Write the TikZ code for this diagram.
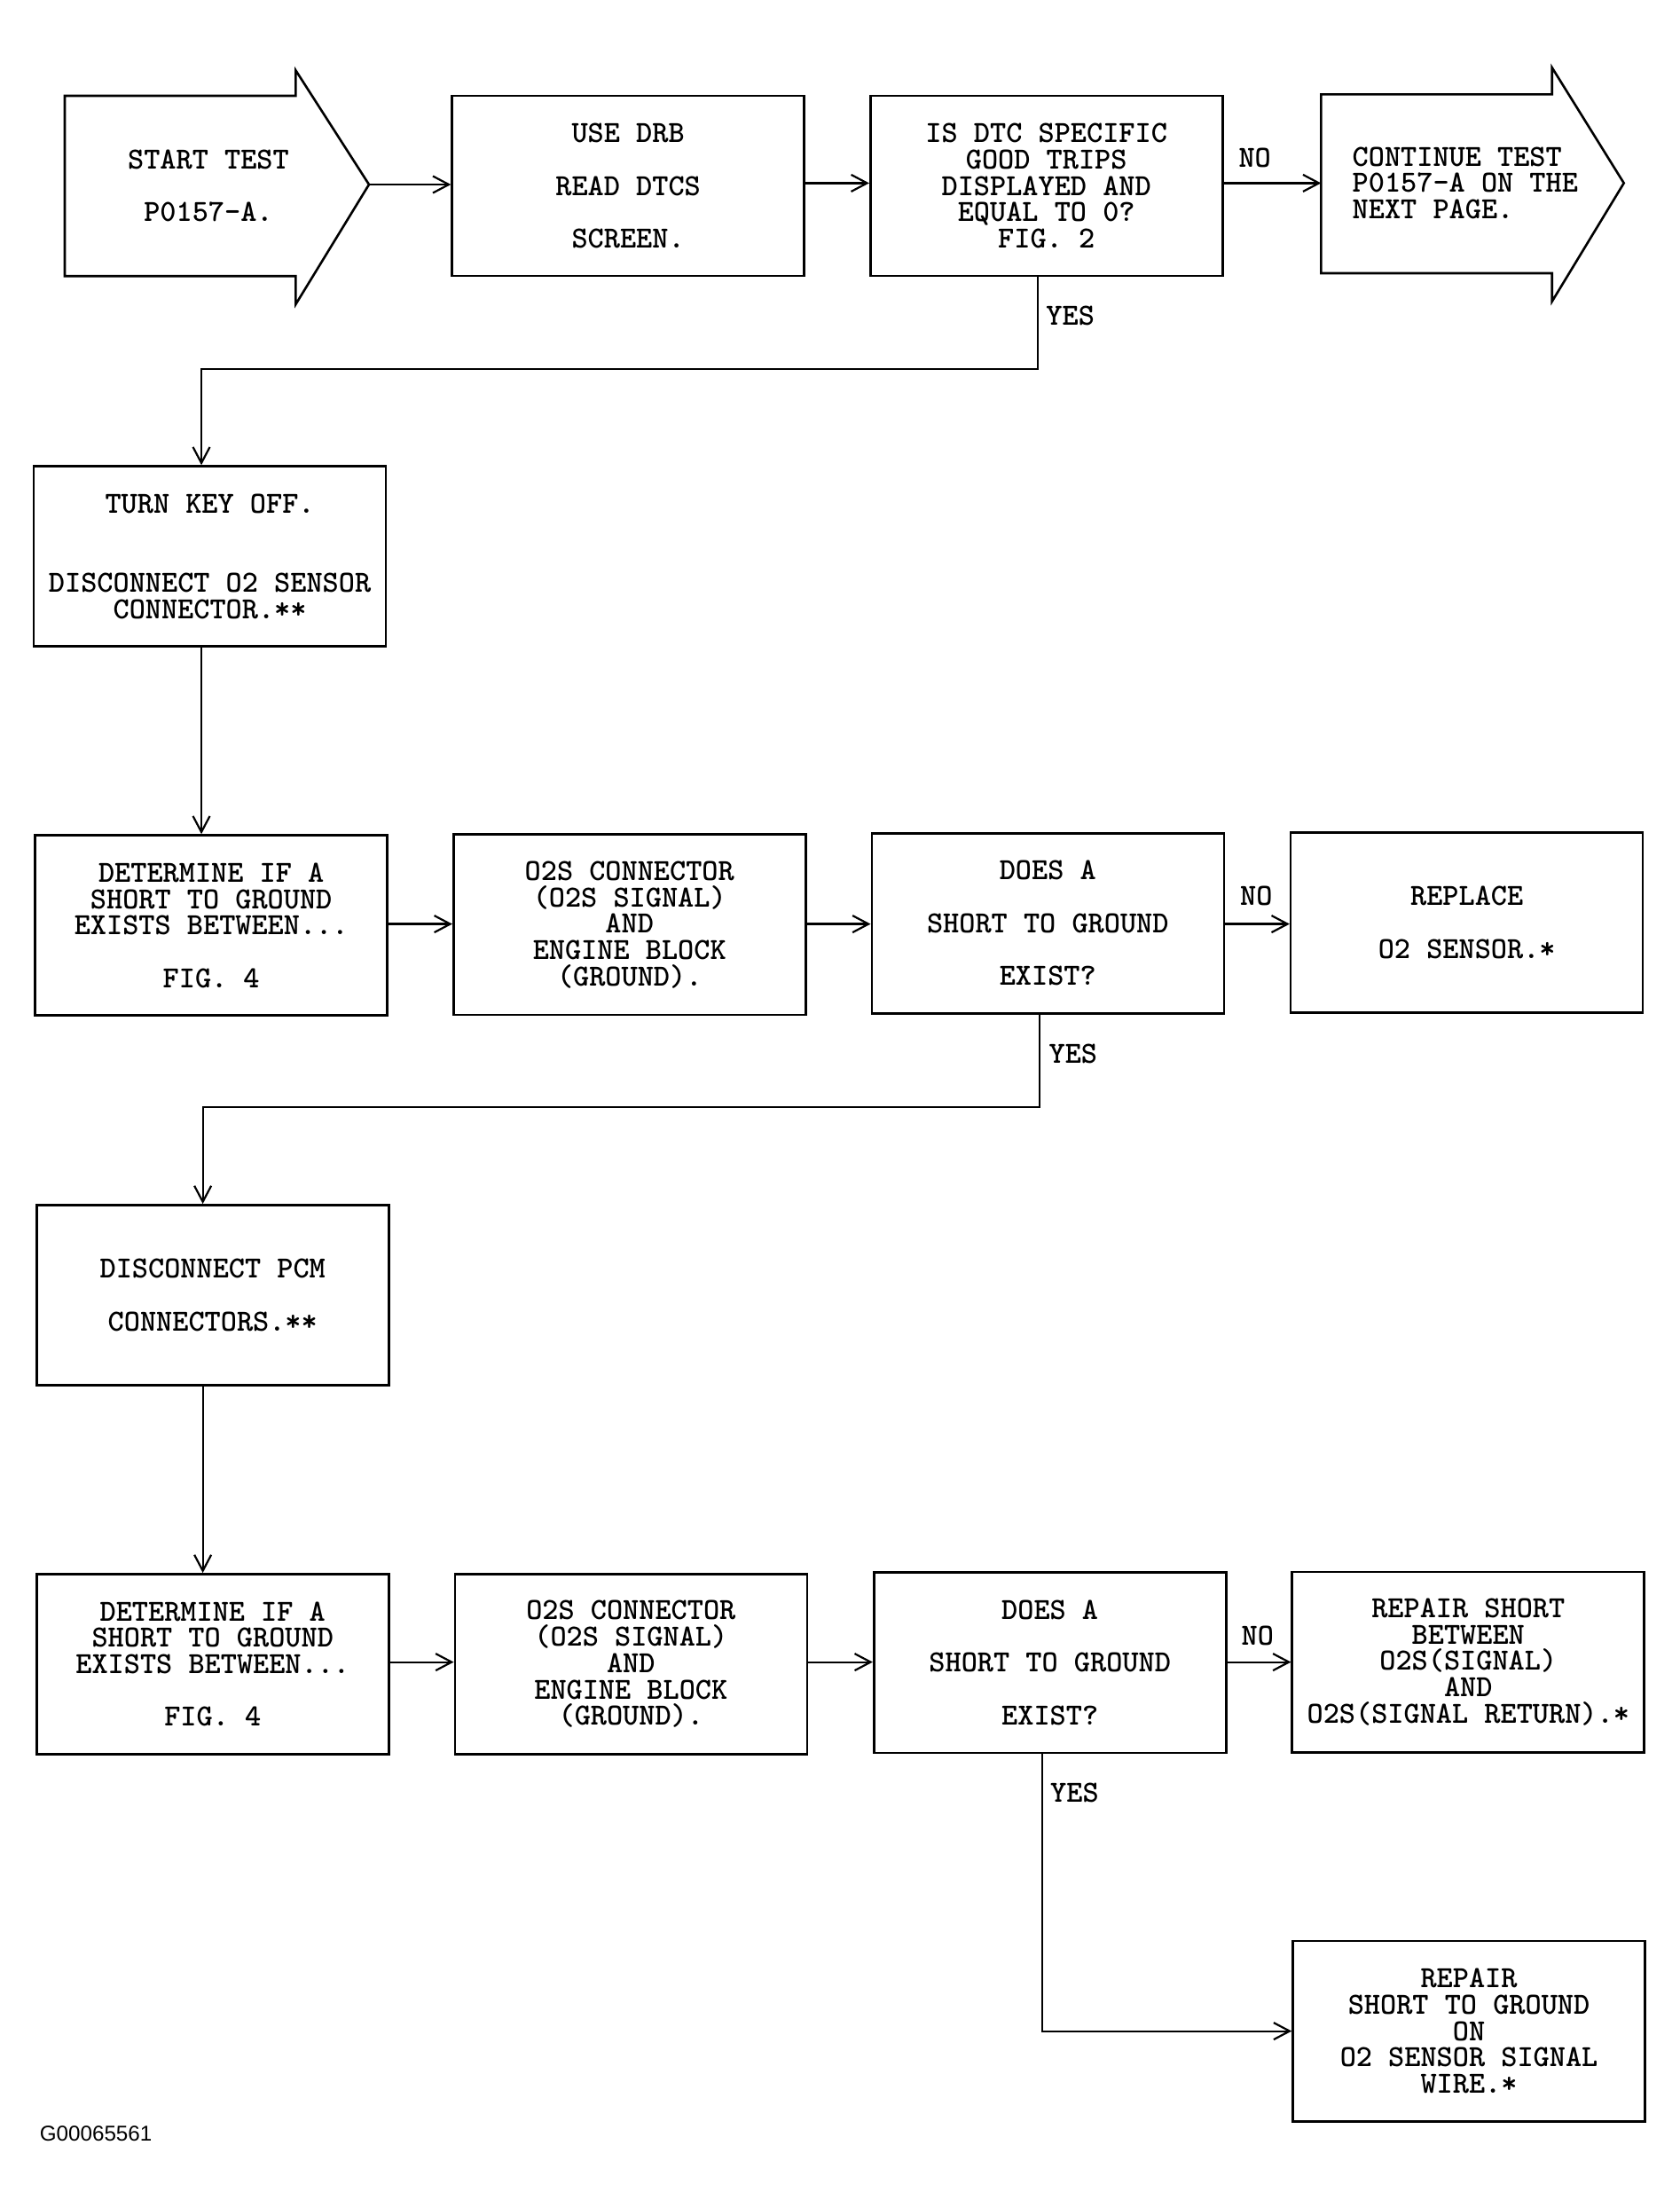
\documentclass[tikz,border=0pt]{standalone}
\usepackage{fontspec}
\newfontfamily\footfont{Liberation Sans}
\usetikzlibrary{arrows.meta}
\newcommand{\boxfont}{\ttfamily\bfseries\fontsize{17.3}{14.85}\selectfont\lineskiplimit=-100pt\relax}
\newcommand{\gap}{\mbox{}}
\tikzset{
  stepbox/.style={draw, line width=1.3pt, minimum width=198.5pt, minimum height=101.6pt,
    inner sep=0pt, align=center, font=\boxfont},
  bigarrow/.style={draw, line width=1.3pt, line join=miter},
  lbl/.style={font=\boxfont, inner sep=0pt},
  arr/.style={line width=1.1pt, -{Straight Barb[length=9pt,width=9.5pt,line width=1.1pt]}}
}
\begin{document}
\begin{tikzpicture}[x=0.7939pt,y=-0.7939pt]
\useasboundingbox (0,0) rectangle (1192.3,1567.6);
\fill[white] (0,0) rectangle (1192.3,1567.6);

% ---- row 1 ----
\draw[bigarrow] (46,68) -- (210,68) -- (210,50) -- (262,131) -- (210,216) -- (210,196) -- (46,196) -- cycle;
\coordinate (starttip) at (262,131);
\node[lbl, align=center] (starttxt) at (148,132) {START TEST\\\gap\\P0157-A.};

\node[stepbox] (use) at (446,132) {USE DRB\\\gap\\READ DTCS\\\gap\\SCREEN.};
\node[stepbox] (dtc) at (743,132) {IS DTC SPECIFIC\\GOOD TRIPS\\DISPLAYED AND\\EQUAL TO 0?\\FIG. 2};

\draw[bigarrow] (938,67) -- (1102,67) -- (1102,48) -- (1153,130) -- (1102,214) -- (1102,194) -- (938,194) -- cycle;
\coordinate (conttail) at (938,130);
\node[lbl, align=left, anchor=west] (conttxt) at (960,130) {CONTINUE TEST\\P0157-A ON THE\\NEXT PAGE.};

\draw[arr] (starttip) -- (use.west |- starttip);
\draw[arr] (use.east |- 0,130) -- (dtc.west |- 0,130);
\draw[arr] (dtc.east |- 0,130) -- (conttail);
\node[lbl] (no1) at (891,112) {NO};

% ---- YES 1 ----
\node[stepbox] (turn) at (149,395) {TURN KEY OFF.\\\gap\\\gap\\DISCONNECT O2 SENSOR\\CONNECTOR.**};
\draw[arr] (dtc.south -| 737,0) -- (737,262) -- (143,262) -- (turn.north -| 143,0);
\node[lbl] (yes1) at (760,224) {YES};

% ---- row 3 ----
\node[stepbox] (det1) at (150,657) {DETERMINE IF A\\SHORT TO GROUND\\EXISTS BETWEEN...\\\gap\\FIG. 4};
\node[stepbox] (o2s1) at (447,656.5) {O2S CONNECTOR\\(O2S SIGNAL)\\AND\\ENGINE BLOCK\\(GROUND).};
\node[stepbox] (does1) at (744,655.5) {DOES A\\\gap\\SHORT TO GROUND\\\gap\\EXIST?};
\node[stepbox] (repl) at (1041.5,655) {REPLACE\\\gap\\O2 SENSOR.*};

\draw[arr] (turn.south -| 143,0) -- (det1.north -| 143,0);
\draw[arr] (det1.east |- 0,656) -- (o2s1.west |- 0,656);
\draw[arr] (o2s1.east |- 0,656) -- (does1.west |- 0,656);
\draw[arr] (does1.east |- 0,656) -- (repl.west |- 0,656);
\node[lbl] (no2) at (892,636) {NO};

% ---- YES 2 ----
\node[stepbox] (pcm) at (151,919.5) {DISCONNECT PCM\\\gap\\CONNECTORS.**};
\draw[arr] (does1.south -| 738,0) -- (738,786) -- (144,786) -- (pcm.north -| 144,0);
\node[lbl] (yes2) at (762,748) {YES};

% ---- row 5 ----
\node[stepbox] (det2) at (151,1181.5) {DETERMINE IF A\\SHORT TO GROUND\\EXISTS BETWEEN...\\\gap\\FIG. 4};
\node[stepbox] (o2s2) at (448,1181.5) {O2S CONNECTOR\\(O2S SIGNAL)\\AND\\ENGINE BLOCK\\(GROUND).};
\node[stepbox] (does2) at (745.5,1180.5) {DOES A\\\gap\\SHORT TO GROUND\\\gap\\EXIST?};
\node[stepbox] (rep1) at (1042.5,1180) {REPAIR SHORT\\BETWEEN\\O2S(SIGNAL)\\AND\\O2S(SIGNAL RETURN).*};

\draw[arr] (pcm.south -| 144,0) -- (det2.north -| 144,0);
\draw[arr] (det2.east |- 0,1180) -- (o2s2.west |- 0,1180);
\draw[arr] (o2s2.east |- 0,1180) -- (does2.west |- 0,1180);
\draw[arr] (does2.east |- 0,1180) -- (rep1.west |- 0,1180);
\node[lbl] (no3) at (893,1161) {NO};

% ---- YES 3 ----
\node[stepbox] (rep2) at (1043,1442) {REPAIR\\SHORT TO GROUND\\ON\\O2 SENSOR SIGNAL\\WIRE.*};
\draw[arr] (does2.south -| 740,0) -- (740,1442) -- (rep2.west);
\node[lbl] (yes3) at (763,1273) {YES};

% ---- footer ----
\node[anchor=west, inner sep=0pt, font=\footfont\fontsize{12.1}{12.1}\selectfont] (code) at (28,1515) {G00065561};
\end{tikzpicture}
\end{document}
